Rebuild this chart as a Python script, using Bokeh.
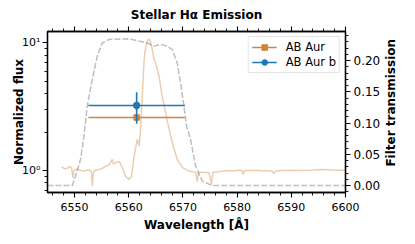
import math
from bokeh.plotting import figure
from bokeh.layouts import row
from bokeh.models import (Range1d, LinearAxis, LinearScale, FixedTicker, Legend,
                          LegendItem, PrintfTickFormatter)
from bokeh.core.properties import value
from bokeh.embed import file_html
from bokeh.resources import INLINE

# ---------------- data ----------------
spec_wl = [6547.55, 6547.73, 6548.2, 6548.65, 6549.26, 6549.5, 6549.7, 6549.9,
           6550.18, 6550.81, 6551.4, 6552.03, 6552.6, 6553.1, 6553.27, 6553.45,
           6553.58, 6554.0, 6554.5, 6555.1, 6555.72, 6556.3, 6556.96, 6557.2,
           6557.56, 6558.19, 6558.5, 6558.8, 6559.41, 6560.04, 6560.52, 6560.96,
           6561.2, 6561.57, 6561.9, 6562.18, 6562.49, 6562.8, 6563.0, 6563.23,
           6563.54, 6563.84, 6564.02, 6564.34, 6564.65, 6564.94, 6565.57, 6566.18,
           6567.1, 6568.03, 6568.95, 6569.87, 6570.5, 6571.11, 6571.7, 6572.32,
           6572.64, 6572.9, 6573.56, 6574.2, 6574.8, 6575.28, 6575.5, 6575.72,
           6576.5, 6577.25, 6578.3, 6579.3, 6580.33, 6580.9, 6581.13, 6581.4,
           6582.3, 6583.39, 6584.5, 6585.5, 6586.48, 6586.79, 6587.1, 6588.2,
           6589.56, 6591.0, 6592.62, 6594.0, 6595.7, 6597.5, 6599.39, 6600.0]
spec_flux = [1.06, 1.06, 1.03, 1.04, 1.08, 1.02, 0.877, 1.0,
             1.02, 1.02, 0.99, 1.0, 1.01, 0.98, 0.753, 0.95,
             0.987, 1.01, 1.02, 1.04, 1.08, 1.10, 1.22, 1.12,
             1.15, 1.18, 1.12, 1.05, 0.90, 0.85, 0.90, 1.26,
             1.45, 1.75, 1.55, 2.1, 3.8, 7.0, 8.6, 9.7,
             10.6, 10.6, 10.0, 8.9, 7.4, 7.0, 5.5, 3.8,
             2.45, 1.65, 1.22, 1.06, 1.02, 0.99, 0.98, 0.97,
             0.82, 0.97, 0.97, 0.965, 0.96, 0.777, 0.97, 0.97,
             0.98, 0.987, 1.0, 0.995, 1.005, 1.0, 0.93, 1.0,
             1.0, 1.005, 0.995, 1.0, 0.987, 0.947, 0.99, 1.0,
             1.005, 1.0, 1.005, 1.01, 1.02, 1.01, 1.005, 1.01]

filt_wl = [6545.0, 6549.58, 6550.18, 6551.11, 6551.73, 6552.34, 6553.27, 6554.19,
           6555.11, 6556.35, 6559.72, 6560.65, 6563.41, 6564.65, 6565.87, 6567.1,
           6568.03, 6568.95, 6569.56, 6570.18, 6570.66, 6571.4, 6572.32, 6573.56,
           6575.4, 6600.0]
filt_trans = [0.0, 0.0, 0.015, 0.042, 0.079, 0.127, 0.170, 0.207,
              0.228, 0.2336, 0.2347, 0.2336, 0.228, 0.223, 0.2256, 0.223,
              0.2176, 0.196, 0.164, 0.127, 0.095, 0.074, 0.031, 0.007,
              0.0, 0.0]

star_wl = 6561.45
star_xerr = 8.9
star_flux = 2.60
star_flux_lo = 2.45
star_flux_hi = 2.76

comp_wl = 6561.45
comp_xerr = 8.9
comp_flux = 3.23
comp_flux_lo = 2.32
comp_flux_hi = 4.10

x_major = [6550, 6560, 6570, 6580, 6590, 6600]
x_minor = [6546, 6548, 6552, 6554, 6556, 6558, 6562, 6564, 6566, 6568, 6572, 6574,
           6576, 6578, 6582, 6584, 6586, 6588, 6592, 6594, 6596, 6598]
y_major = [1, 10]
y_minor = [0.7, 0.8, 0.9, 2, 3, 4, 5, 6, 7, 8, 9]
y_labels = {1: "10⁰", 10: "10¹"}
t_major = [0.0, 0.05, 0.10, 0.15, 0.20]
t_minor = [-0.01, 0.01, 0.02, 0.03, 0.04, 0.06, 0.07, 0.08, 0.09, 0.11, 0.12,
           0.13, 0.14, 0.16, 0.17, 0.18, 0.19, 0.21, 0.22, 0.23, 0.24]
right_title = "Filter transmission"

# ---------------- styling ----------------
FONT = "DejaVu Sans"
STAR_C = "#cd853f"
COMP_C = "#1f77b4"
FIG_H = 228

p = figure(frame_width=298, frame_height=161, height=FIG_H,
           x_range=Range1d(6545, 6600), y_range=Range1d(0.673, 12.25),
           y_axis_type="log", output_backend="svg", toolbar_location=None,
           min_border_left=47, min_border_right=36, min_border_top=24,
           min_border_bottom=43, background_fill_color="white")
p.extra_y_ranges = {"filt": Range1d(-0.0112, 0.2464)}
p.extra_y_scales = {"filt": LinearScale()}
p.grid.visible = False
p.outline_line_color = "black"
p.outline_line_width = 1.3

p.title.text = "Stellar Hα Emission"
p.title.align = "center"
p.title.text_font = FONT
p.title.text_font_size = "12px"
p.title.text_font_style = "bold"
p.title.text_color = "black"


def style_axis(ax):
    ax.axis_line_color = "black"
    ax.axis_line_width = 1.3
    ax.major_tick_out = 5
    ax.major_tick_in = 0
    ax.minor_tick_out = 3
    ax.minor_tick_in = 0
    ax.major_tick_line_width = 1.1
    ax.minor_tick_line_width = 0.9
    ax.major_label_text_font = FONT
    ax.major_label_text_font_size = "11px"
    ax.major_label_text_color = "black"
    ax.axis_label_text_font = FONT
    ax.axis_label_text_font_size = "12px"
    ax.axis_label_text_font_style = "bold"
    ax.axis_label_text_color = "black"


xax = p.xaxis[0]
xax.ticker = FixedTicker(ticks=x_major, minor_ticks=x_minor)
xax.axis_label = "Wavelength [Å]"
style_axis(xax)
xax.major_label_standoff = 5
xax.axis_label_standoff = 4

yax = p.yaxis[0]
yax.ticker = FixedTicker(ticks=y_major, minor_ticks=y_minor)
yax.major_label_overrides = y_labels
yax.axis_label = "Normalized flux"
style_axis(yax)
yax.major_label_standoff = 2
yax.axis_label_standoff = -7

top = LinearAxis(ticker=FixedTicker(ticks=x_major, minor_ticks=x_minor))
style_axis(top)
top.major_label_overrides = {t: "" for t in x_major}
top.major_label_standoff = 0
p.add_layout(top, "above")

rax = LinearAxis(y_range_name="filt",
                 ticker=FixedTicker(ticks=t_major, minor_ticks=t_minor),
                 formatter=PrintfTickFormatter(format="%.2f"))
style_axis(rax)
rax.major_label_text_font_size = "12px"
rax.major_label_standoff = 3
p.add_layout(rax, "right")

# ---------------- glyphs ----------------
p.line(spec_wl, spec_flux, line_color=STAR_C, line_alpha=0.4, line_width=1.5)
p.line(filt_wl, filt_trans, y_range_name="filt", line_color="gray",
       line_alpha=0.5, line_width=1.5, line_dash="6 2")

sx = p.segment(x0=[star_wl - star_xerr], y0=[star_flux], x1=[star_wl + star_xerr],
               y1=[star_flux], line_color=STAR_C, line_width=1.6)
sy = p.segment(x0=[star_wl], y0=[star_flux_lo], x1=[star_wl], y1=[star_flux_hi],
               line_color=STAR_C, line_width=1.6)
sm = p.scatter([star_wl], [star_flux], marker="square", size=5.5,
               fill_color=STAR_C, line_color=STAR_C)

cx = p.segment(x0=[comp_wl - comp_xerr], y0=[comp_flux], x1=[comp_wl + comp_xerr],
               y1=[comp_flux], line_color=COMP_C, line_width=1.6)
cy = p.segment(x0=[comp_wl], y0=[comp_flux_lo], x1=[comp_wl], y1=[comp_flux_hi],
               line_color=COMP_C, line_width=1.6)
cv = p.scatter([comp_wl], [comp_flux], marker="dash", angle=1.5708, size=9,
               line_color=COMP_C, line_width=1.6)
cm = p.scatter([comp_wl], [comp_flux], marker="circle", size=6.5,
               fill_color=COMP_C, line_color=COMP_C)

legend = Legend(items=[LegendItem(label="AB Aur", renderers=[sx, sm]),
                       LegendItem(label="AB Aur b", renderers=[cx, cv, cm])],
                location="top_right")
legend.label_text_font = FONT
legend.label_text_font_size = "11.5px"
legend.label_text_color = "black"
legend.glyph_width = 25
legend.glyph_height = 14
legend.label_height = 14
legend.label_standoff = 9
legend.spacing = 1
legend.padding = 3
legend.margin = 5
legend.border_line_color = "#cccccc"
legend.border_line_width = 1
legend.background_fill_alpha = 0.8
p.add_layout(legend)

# ---------------- right-hand axis title (reads bottom to top) ----------------
# a narrow companion figure whose y range is measured in pixels of the row
side = figure(width=14, height=FIG_H, x_range=Range1d(0, 1),
              y_range=Range1d(0, FIG_H), output_backend="svg",
              toolbar_location=None, min_border=0, outline_line_color=None,
              background_fill_color="white", border_fill_color="white")
side.axis.visible = False
side.grid.visible = False
side.text(x=[0.5], y=[FIG_H - 105.5], text=[right_title], angle=math.pi / 2,
          text_align="center", text_baseline="middle",
          text_font=value(FONT), text_font_size="12px",
          text_font_style="bold", text_color="black")

layout = row(p, side)
open("out.html", "w").write(file_html(layout, INLINE))
